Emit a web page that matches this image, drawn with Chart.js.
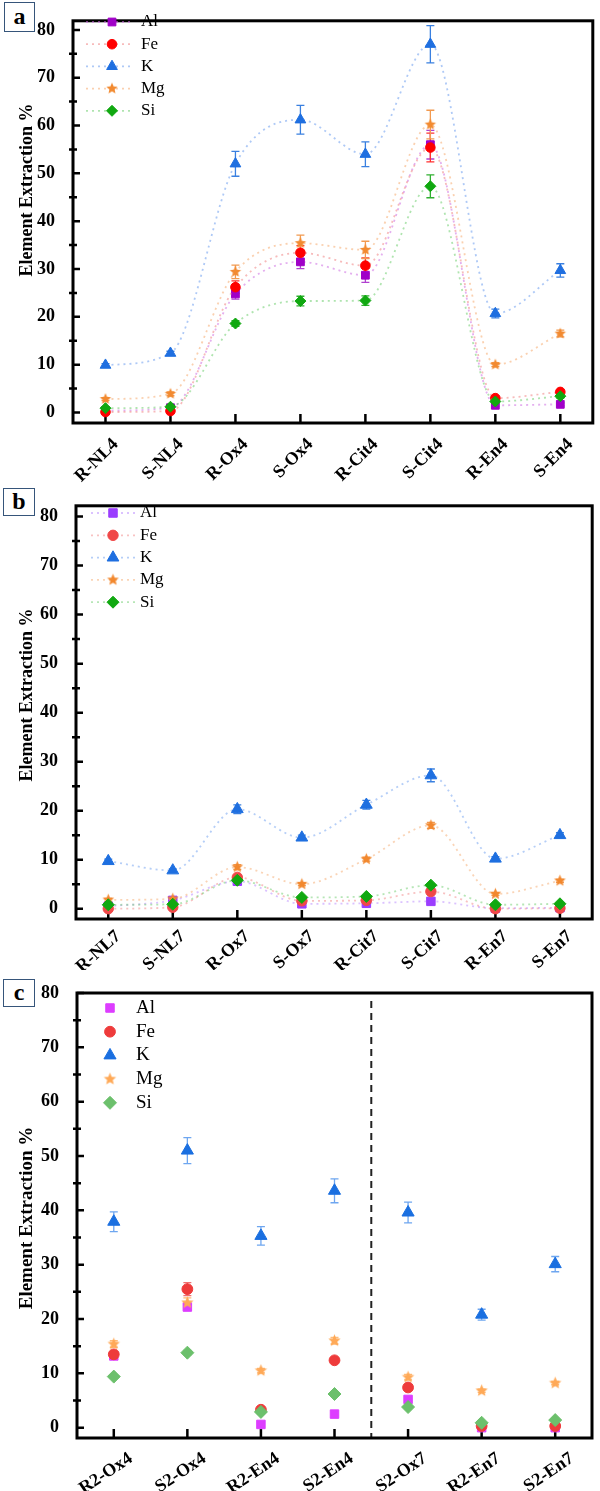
<!DOCTYPE html>
<html>
<head>
<meta charset="utf-8">
<script src="https://cdn.jsdelivr.net/npm/chart.js@4"></script>
<style>
  body { margin: 0; background: #fff; }
  #wrap { position: relative; width: 600px; height: 1491px; }
  canvas { position: absolute; left: 0; }
  .tag { position: absolute; box-sizing: border-box; border: 1.5px solid #36557a; background: #fff;
         font: bold 24px "Liberation Serif", "Times New Roman", serif; text-align: center; color: #000; }
</style>
</head>
<body>
<div id="wrap">
  <canvas id="chartA" width="600" height="485" style="top:0"></canvas>
  <canvas id="chartB" width="600" height="485" style="top:485px"></canvas>
  <canvas id="chartC" width="600" height="521" style="top:970px"></canvas>
  <div class="tag" style="left:4px;top:2px;width:31px;height:30px;line-height:26px">a</div>
  <div class="tag" style="left:3px;top:488px;width:32px;height:28px;line-height:25px">b</div>
  <div class="tag" style="left:3px;top:979px;width:32px;height:28px;line-height:25px">c</div>
</div>
<script>
// ---- data ----
const elements = ['Al', 'Fe', 'K', 'Mg', 'Si'];

// panel a: 4 h leaching
const labelsA = ['R-NL4', 'S-NL4', 'R-Ox4', 'S-Ox4', 'R-Cit4', 'S-Cit4', 'R-En4', 'S-En4'];
const aAl = [0.4, 1.0, 24.8, 31.5, 28.7, 56.0, 1.5, 1.7];
const aFe = [0.1, 0.3, 26.2, 33.4, 30.7, 55.4, 3.0, 4.3];
const aK  = [9.9, 12.4, 52.0, 61.2, 54.0, 77.0, 20.7, 29.7];
const aMg = [2.8, 3.9, 29.4, 35.4, 34.0, 60.2, 10.0, 16.5];
const aSi = [0.9, 1.2, 18.6, 23.3, 23.4, 47.3, 2.3, 3.4];
const aAlErr = [0.2, 0.3, 1.1, 1.4, 1.5, 3.0, 0.2, 0.3];
const aFeErr = [0.2, 0.2, 1.3, 1.5, 1.6, 3.0, 0.3, 0.3];
const aKErr  = [0.3, 0.4, 2.6, 3.0, 2.6, 3.9, 0.9, 1.4];
const aMgErr = [0.3, 0.4, 1.4, 1.7, 1.8, 3.0, 0.4, 0.7];
const aSiErr = [0.2, 0.3, 0.6, 1.0, 1.0, 2.4, 0.5, 0.4];

// panel b: 7 h leaching
const labelsB = ['R-NL7', 'S-NL7', 'R-Ox7', 'S-Ox7', 'R-Cit7', 'S-Cit7', 'R-En7', 'S-En7'];
const bAl = [0.5, 1.7, 5.6, 1.0, 1.1, 1.5, 0.1, 0.2];
const bFe = [0.0, 0.3, 6.4, 1.6, 1.7, 3.5, 0.0, 0.1];
const bK  = [9.7, 7.8, 20.3, 14.5, 21.2, 27.2, 10.2, 15.0];
const bMg = [1.8, 2.0, 8.5, 5.0, 10.1, 17.0, 3.0, 5.7];
const bSi = [0.8, 0.9, 5.8, 2.3, 2.5, 4.8, 0.8, 1.0];
const bAlErr = [0.2, 0.2, 0.3, 0.2, 0.2, 0.2, 0.1, 0.1];
const bFeErr = [0.1, 0.2, 0.4, 0.2, 0.2, 0.3, 0.1, 0.1];
const bKErr  = [0.4, 0.3, 0.9, 0.5, 0.9, 1.3, 0.4, 0.5];
const bMgErr = [0.3, 0.3, 0.5, 0.3, 0.4, 0.6, 0.3, 0.3];
const bSiErr = [0.2, 0.2, 0.3, 0.2, 0.2, 0.3, 0.2, 0.2];

// panel c: second stage
const labelsC = ['R2-Ox4', 'S2-Ox4', 'R2-En4', 'S2-En4', 'S2-Ox7', 'R2-En7', 'S2-En7'];
const cAl = [13.2, 22.2, 0.6, 2.5, 5.2, 0.0, 0.0];
const cFe = [13.5, 25.5, 3.3, 12.4, 7.4, 0.3, 0.3];
const cK  = [37.9, 51.0, 35.3, 43.6, 39.6, 20.8, 30.1];
const cMg = [15.4, 23.0, 10.5, 16.0, 9.3, 6.8, 8.2];
const cSi = [9.4, 13.8, 2.9, 6.2, 3.8, 0.9, 1.4];
const cAlErr = [0.3, 0.5, 0, 0, 0.3, 0, 0];
const cFeErr = [0.5, 1.2, 0.3, 0.4, 0.4, 0, 0];
const cKErr  = [1.8, 2.4, 1.7, 2.2, 1.9, 1.0, 1.4];
const cMgErr = [0.6, 0.9, 0.4, 0.6, 0.5, 0.3, 0.3];
const cSiErr = [0.3, 0.4, 0.3, 0.3, 0.3, 0, 0];
const dividerC = 3.5; // between S2-En4 and S2-Ox7

const SERIF = '"Liberation Serif", "Times New Roman", serif';

// filled 5 point star used as point style
function starImage(color, r) {
    const s = Math.ceil(r * 2 + 2);
    const c = document.createElement('canvas');
    c.width = s; c.height = s;
    const g = c.getContext('2d');
    g.fillStyle = color;
    g.beginPath();
    for (let i = 0; i < 10; i++) {
        const rr = i % 2 ? r * 0.45 : r;
        const ang = -Math.PI / 2 + i * Math.PI / 5;
        g.lineTo(s / 2 + rr * Math.cos(ang), s / 2 + rr * Math.sin(ang));
    }
    g.closePath();
    g.fill();
    return c;
}

// ---- plugins ----
const framePlugin = {
    id: 'frame',
    beforeDatasetsDraw(chart, args, opts) {
        const { ctx, chartArea: a, scales: { x, y } } = chart;
        ctx.save();
        ctx.strokeStyle = '#000';
        ctx.lineWidth = 2.5;
        ctx.beginPath();
        y.ticks.forEach(t => {
            const py = y.getPixelForValue(t.value);
            if (t.value % 10 === 0) {
                ctx.moveTo(a.left, py); ctx.lineTo(a.left + 7, py);
            } else {
                ctx.moveTo(a.left - 4, py); ctx.lineTo(a.left + 4, py);
            }
        });
        x.ticks.forEach((t, i) => {
            const px = x.getPixelForTick(i);
            ctx.moveTo(px, a.bottom); ctx.lineTo(px, a.bottom - 9);
        });
        ctx.stroke();
        if (opts.divider !== undefined) {
            const px = x.getPixelForValue(opts.divider);
            ctx.strokeStyle = '#222';
            ctx.lineWidth = 2;
            ctx.setLineDash([7, 5]);
            ctx.beginPath();
            ctx.moveTo(px, a.top + 8); ctx.lineTo(px, a.bottom);
            ctx.stroke();
        }
        ctx.restore();
    },
    afterDatasetsDraw(chart) {
        const { ctx, chartArea: a } = chart;
        ctx.save();
        ctx.strokeStyle = '#000';
        ctx.lineWidth = 3;
        ctx.strokeRect(a.left, a.top, a.right - a.left, a.bottom - a.top);
        ctx.restore();
    }
};

const errorBarPlugin = {
    id: 'errorBars',
    beforeDatasetsDraw(chart) {
        const { ctx, scales: { x, y } } = chart;
        chart.data.datasets.forEach(ds => {
            if (!ds.errors) return;
            ctx.save();
            ctx.strokeStyle = ds.errorColor;
            ctx.lineWidth = 1.3;
            ds.data.forEach((v, i) => {
                const e = ds.errors[i];
                if (!e) return;
                const px = x.getPixelForValue(i);
                const top = y.getPixelForValue(v + e);
                const bot = y.getPixelForValue(v - e);
                ctx.beginPath();
                ctx.moveTo(px, top); ctx.lineTo(px, bot);
                ctx.moveTo(px - 4, top); ctx.lineTo(px + 4, top);
                ctx.moveTo(px - 4, bot); ctx.lineTo(px + 4, bot);
                ctx.stroke();
            });
            ctx.restore();
        });
    }
};

const legendPlugin = {
    id: 'boxLegend',
    afterDraw(chart, args, o) {
        const ctx = chart.ctx;
        chart.data.datasets.forEach((ds, i) => {
            const y = o.y0 + i * o.dy;
            ctx.save();
            if (o.line) {
                ctx.strokeStyle = ds.borderColor;
                ctx.lineWidth = ds.borderWidth;
                ctx.setLineDash(ds.borderDash);
                ctx.beginPath();
                ctx.moveTo(o.x1, y); ctx.lineTo(o.x2, y);
                ctx.stroke();
                ctx.setLineDash([]);
            }
            ctx.fillStyle = ds.pointBackgroundColor;
            ctx.strokeStyle = ds.pointBorderColor;
            ctx.lineWidth = 1;
            Chart.helpers.drawPoint(ctx, { pointStyle: ds.pointStyle, radius: ds.pointRadius, rotation: 0, borderWidth: 1 }, o.mx, y);
            ctx.fillStyle = '#000';
            ctx.font = o.font;
            ctx.textBaseline = 'middle';
            ctx.fillText(ds.label, o.tx, y);
            ctx.restore();
        });
    }
};

const yTitlePlugin = {
    id: 'yTitle',
    afterDraw(chart, args, o) {
        const ctx = chart.ctx;
        ctx.save();
        ctx.translate(o.x, o.y);
        ctx.rotate(-Math.PI / 2);
        ctx.font = o.font;
        ctx.fillStyle = '#000';
        ctx.textAlign = 'center';
        ctx.textBaseline = 'middle';
        ctx.fillText('Element Extraction %', 0, 0);
        ctx.restore();
    }
};

// ---- chart builder ----
function makeSets(values, errors, colors, lineColors, errColors, sizes, showLine) {
    const styles = ['rect', 'circle', 'triangle', 'star', 'rectRot'];
    const order = [5, 4, 3, 2, 1]; // later element drawn on top
    return elements.map((el, i) => ({
        label: el,
        data: values[i],
        errors: errors[i],
        errorColor: errColors[i],
        order: order[i],
        showLine: showLine,
        borderColor: lineColors[i],
        borderWidth: 1.8,
        borderDash: [2, 4],
        cubicInterpolationMode: 'monotone',
        pointStyle: styles[i] === 'star' ? starImage(colors[i], sizes[i]) : styles[i],
        pointRadius: sizes[i],
        pointBackgroundColor: colors[i],
        pointBorderColor: colors[i],
        pointBorderWidth: 1,
        clip: false
    }));
}

function buildChart(id, labels, datasets, box, yRange, rot, pad, shift, legendOpts, titleOpts, divider) {
    const canvas = document.getElementById(id);
    return new Chart(canvas.getContext('2d'), {
        type: 'line',
        data: { labels: labels, datasets: datasets },
        plugins: [framePlugin, errorBarPlugin, legendPlugin, yTitlePlugin],
        options: {
            responsive: false,
            animation: false,
            events: [],
            layout: { padding: { left: 0, top: box.top, right: canvas.width - box.right, bottom: 0 } },
            scales: {
                x: {
                    type: 'category',
                    offset: true,
                    grid: { display: false },
                    border: { display: false },
                    afterFit: s => { s.height = canvas.height - box.bottom; },
                    ticks: {
                        autoSkip: false,
                        minRotation: rot,
                        maxRotation: rot,
                        padding: pad,
                        labelOffset: shift,
                        color: '#000',
                        font: { family: SERIF, size: 18, weight: 'bold' }
                    }
                },
                y: {
                    min: yRange[0],
                    max: yRange[1],
                    grid: { display: false },
                    border: { display: false },
                    afterFit: s => { s.width = box.left; },
                    ticks: {
                        stepSize: 5,
                        includeBounds: false,
                        autoSkip: false,
                        padding: 10,
                        color: '#000',
                        font: { family: SERIF, size: 18, weight: 'bold' },
                        callback: v => (v % 10 === 0 ? v : '')
                    }
                }
            },
            plugins: {
                legend: { display: false },
                tooltip: { enabled: false },
                frame: { divider: divider },
                boxLegend: legendOpts,
                yTitle: titleOpts
            }
        }
    });
}

// panel a
buildChart('chartA', labelsA,
    makeSets([aAl, aFe, aK, aMg, aSi], [aAlErr, aFeErr, aKErr, aMgErr, aSiErr],
        ['#a000c8', '#ff0000', '#1f6fe0', '#f28a30', '#10a810'],
        ['rgba(205,110,225,0.55)', 'rgba(240,120,120,0.5)', 'rgba(120,165,240,0.6)', 'rgba(245,170,110,0.55)', 'rgba(110,205,110,0.55)'],
        ['#b040d0', '#ff3030', '#3a80e0', '#f29a50', '#30b030'],
        [5.5, 4.8, 6.2, 6, 5.5], true),
    { left: 73, top: 4, right: 593, bottom: 423 }, [-2.2, 81.9], 45, 3, 10,
    { line: true, x1: 86, x2: 132, mx: 112, tx: 141, y0: 22, dy: 22.2, font: '17px ' + SERIF },
    { x: 27, y: 190, font: 'bold 18px ' + SERIF });

// panel b
buildChart('chartB', labelsB,
    makeSets([bAl, bFe, bK, bMg, bSi], [bAlErr, bFeErr, bKErr, bMgErr, bSiErr],
        ['#9b3dff', '#f04848', '#1e6fe0', '#f2882e', '#10a810'],
        ['rgba(175,120,255,0.45)', 'rgba(240,120,120,0.45)', 'rgba(120,165,240,0.55)', 'rgba(245,170,110,0.5)', 'rgba(110,205,110,0.5)'],
        ['#a860ff', '#f06060', '#3a80e0', '#f29a50', '#30b030'],
        [6, 5.2, 6.8, 6.2, 6], true),
    { left: 76, top: 13, right: 596, bottom: 434 }, [-2.1, 82.2], 42, -1, 10,
    { line: true, x1: 91, x2: 137, mx: 113, tx: 140, y0: 28, dy: 22.3, font: '17px ' + SERIF },
    { x: 27, y: 210, font: 'bold 18px ' + SERIF });

// panel c
buildChart('chartC', labelsC,
    makeSets([cAl, cFe, cK, cMg, cSi], [cAlErr, cFeErr, cKErr, cMgErr, cSiErr],
        ['#dd3dff', '#ee3b3b', '#1a6fe0', '#ffa957', '#6cc06c'],
        ['#dd3dff', '#ee3b3b', '#1a6fe0', '#ffa957', '#6cc06c'],
        ['#e070ff', '#f07070', '#6ea6f0', '#ffbb77', '#90d090'],
        [6, 5.4, 7, 6.5, 6.5], false),
    { left: 77, top: 23, right: 597, bottom: 468 }, [-1.9, 80], 34, 2, 17,
    { line: false, mx: 110, tx: 136, y0: 38, dy: 23.7, font: '19px ' + SERIF },
    { x: 27, y: 248, font: 'bold 19px ' + SERIF },
    dividerC);
</script>
</body>
</html>
